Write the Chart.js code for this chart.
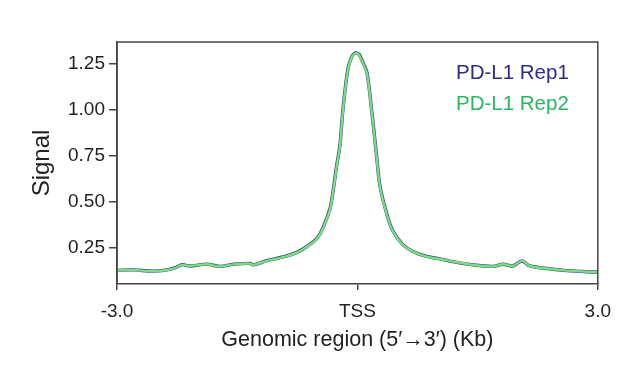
<!DOCTYPE html>
<html>
<head>
<meta charset="utf-8">
<script src="https://cdn.jsdelivr.net/npm/chart.js@4"></script>
<style>
html,body{margin:0;padding:0;background:#fff;}
#wrap{width:621px;height:365px;position:relative;}
</style>
</head>
<body>
<div id="wrap"><canvas id="c" width="621" height="365"></canvas></div>
<script>
// Genomic positions (Kb relative to TSS)
const positions = [-3.0,-2.80,-2.55,-2.38,-2.25,-2.19,-2.09,-1.88,-1.72,-1.55,-1.34,-1.30,-1.13,-0.93,-0.755,-0.63,-0.505,-0.43,-0.343,-0.306,-0.256,-0.219,-0.18,-0.119,-0.069,-0.035,-0.019,0.02,0.069,0.119,0.181,0.243,0.281,0.368,0.443,0.567,0.692,0.867,1.029,1.191,1.441,1.690,1.815,1.940,2.052,2.152,2.364,2.614,3.0];
const rep1 = [0.128,0.131,0.124,0.131,0.146,0.159,0.152,0.162,0.150,0.161,0.166,0.158,0.181,0.201,0.226,0.258,0.302,0.360,0.462,0.552,0.705,0.805,1.005,1.222,1.292,1.308,1.312,1.303,1.258,1.204,0.985,0.735,0.588,0.433,0.342,0.268,0.231,0.204,0.191,0.176,0.158,0.150,0.161,0.152,0.179,0.152,0.138,0.127,0.118];
const rep2 = [0.127,0.130,0.123,0.130,0.145,0.158,0.152,0.161,0.149,0.161,0.165,0.158,0.180,0.200,0.225,0.257,0.300,0.357,0.457,0.547,0.700,0.800,1.000,1.217,1.290,1.305,1.310,1.300,1.254,1.200,0.980,0.730,0.583,0.430,0.340,0.267,0.230,0.203,0.190,0.176,0.158,0.149,0.161,0.152,0.180,0.152,0.138,0.127,0.118];
const seriesNames = ["PD-L1 Rep1","PD-L1 Rep2"];
const xTickValues = [-3, 0, 3];
const xTickLabels = ["-3.0","TSS","3.0"];
const yTickValues = [0.25, 0.5, 0.75, 1.0, 1.25];

const FONT = "'Liberation Sans', Arial, sans-serif";

const boxPlugin = {
  id: 'box',
  afterDraw(chart) {
    const a = chart.chartArea, ctx = chart.ctx;
    ctx.save();
    ctx.strokeStyle = '#444';
    ctx.lineWidth = 1.5;
    ctx.beginPath();
    ctx.moveTo(a.left, a.bottom);
    ctx.lineTo(a.left, a.top);
    ctx.lineTo(a.right, a.top);
    ctx.lineTo(a.right, a.bottom);
    ctx.stroke();
    ctx.restore();
  }
};

const legendText = {
  id: 'legendText',
  afterDraw(chart) {
    const ctx = chart.ctx;
    ctx.save();
    ctx.font = "20.5px " + FONT;
    ctx.textAlign = 'left';
    ctx.textBaseline = 'alphabetic';
    ctx.fillStyle = '#2e2a8c';
    ctx.fillText(seriesNames[0], 456, 79);
    ctx.fillStyle = '#2bb561';
    ctx.fillText(seriesNames[1], 456, 110);
    ctx.restore();
  }
};

new Chart(document.getElementById('c'), {
  type: 'line',
  data: {
    datasets: [
      {label: seriesNames[0], order: 2, data: positions.map((x,i)=>({x, y: rep1[i]})), borderColor: '#3d4390', borderWidth: 3.4, pointRadius: 0, tension: 0.35, fill: false},
      {label: seriesNames[1], order: 1, data: positions.map((x,i)=>({x, y: rep2[i]})), borderColor: '#78e07a', borderWidth: 2.4, pointRadius: 0, tension: 0.35, fill: false}
    ]
  },
  options: {
    responsive: false,
    animation: false,
    layout: {padding: {left: 24, right: 23, top: 42, bottom: 8}},
    plugins: {legend: {display: false}, tooltip: {enabled: false}},
    scales: {
      x: {
        type: 'linear', min: -3, max: 3,
        afterBuildTicks(s){ s.ticks = xTickValues.map(v=>({value:v})); },
        afterFit(s){ s.height = 365 - 284 - 8; },
        ticks: {
          callback(v){ const i = xTickValues.indexOf(v); return i >= 0 ? xTickLabels[i] : ''; },
          font: {family: FONT, size: 19}, color: '#222', padding: 10, maxRotation: 0, autoSkip: false
        },
        grid: {drawOnChartArea: false, drawTicks: true, tickLength: 6, color: '#444', lineWidth: 1.5},
        border: {display: true, color: '#444', width: 1.5},
        title: {display: true, text: 'Genomic region (5\u2032\u21923\u2032) (Kb)', font: {family: FONT, size: 21.5}, color: '#222', padding: {top: 0}}
      },
      y: {
        type: 'linear', min: 0.054, max: 1.37,
        afterBuildTicks(s){ s.ticks = yTickValues.map(v=>({value:v})); },
        afterFit(s){ s.width = 117 - 24; },
        ticks: {
          callback(v){ return v.toFixed(2); },
          font: {family: FONT, size: 19}, color: '#222', padding: 4
        },
        grid: {drawOnChartArea: false, drawTicks: true, tickLength: 8, color: '#444', lineWidth: 1.5},
        border: {display: true, color: '#444', width: 1.5},
        title: {display: true, text: 'Signal', font: {family: FONT, size: 24}, color: '#222', padding: {bottom: 4}}
      }
    }
  },
  plugins: [boxPlugin, legendText]
});
</script>
</body>
</html>
